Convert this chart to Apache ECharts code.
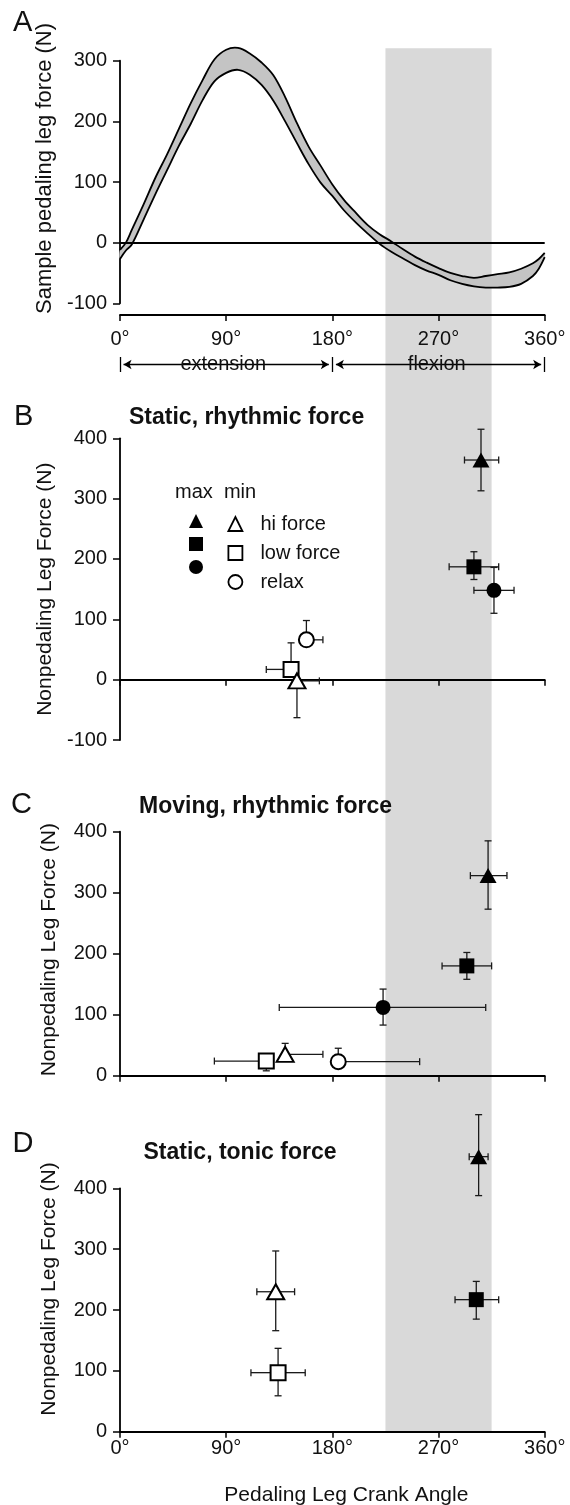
<!DOCTYPE html>
<html>
<head>
<meta charset="utf-8">
<script src="https://cdn.jsdelivr.net/npm/echarts@6/dist/echarts.min.js"></script>
<style>
html, body { margin: 0; padding: 0; background: #fff; }
#chart { width: 570px; height: 1505px; }
</style>
</head>
<body>
<div id="chart"></div>
<script>
// panel A: sample pedaling leg force, upper and lower bound of the band
var crankAngles = [0, 5, 10, 20, 30, 40, 50, 60, 70, 80, 90, 100, 110, 120, 130, 140, 150, 160, 170, 180,
    190, 200, 210, 220, 230, 240, 250, 260, 270, 280, 290, 300, 310, 320, 330, 340, 350, 355, 360];
var forceUpper = [-12, 0, 21, 63, 107, 146, 188, 230, 268, 302, 318, 321, 312, 297, 276, 240, 197, 158, 127, 96,
    70, 49, 29, 14, 2, -11, -23, -33, -42, -50, -55, -58, -55, -52, -49, -43, -34, -27, -17];
var forceLower = [-27, -13, -3, 38, 80, 120, 160, 196, 235, 266, 280, 285, 277, 260, 234, 200, 164, 129, 99, 77,
    53, 33, 15, -2, -15, -26, -37, -46, -53, -62, -68, -72, -74, -74, -73, -68, -55, -43, -24];

// shaded flexion window and the phase row under panel A
var flexionBand = [225, 315];
var phaseBounds = [0, 180, 360];
var phaseNames = ['extension', 'flexion'];
var phaseLabelAt = [87.5, 268.5];

var panelLetters = ['A', 'B', 'C', 'D'];
var panelTitles = ['Static, rhythmic force', 'Moving, rhythmic force', 'Static, tonic force'];

// points: [angle, force, angle -, angle +, force -, force +]
var bHiMax = [306, 364, 14, 15, 51, 51];
var bLowMax = [300, 187, 21, 21, 21, 25];
var bRelaxMax = [317, 148, 17, 17, 38, 38];
var bLowMin = [145, 17, 21, 0, 0, 44];
var bHiMin = [150, -2, 0, 19, 61, 0];
var bRelaxMin = [158, 66, 0, 14, 0, 32];

var cHiMax = [312, 328, 15, 16, 55, 57];
var cLowMax = [294, 180, 21, 21, 22, 22];
var cRelaxMax = [223, 112, 88, 87, 29, 30];
var cLowMin = [124, 24, 44, 0, 16, 0];
var cHiMin = [140, 35, 0, 32, 0, 18];
var cRelaxMin = [185, 23, 0, 69, 0, 22];

var dHiMax = [304, 452, 8, 8, 64, 69];
var dLowMax = [302, 217, 18, 19, 32, 30];
var dLowMin = [134, 97, 23, 23, 38, 40];
var dHiMin = [132, 230, 16, 16, 64, 67];

var ink = '#111';
var myChart = echarts.init(document.getElementById('chart'));

function angleAxis(idx, opt) {
    var ax = {
        gridIndex: idx, type: 'value', min: 0, max: 360, interval: 90,
        splitLine: { show: false },
        axisLine: { show: true, onZero: opt.onZero !== false, lineStyle: { color: '#000', width: 1.8 } },
        axisTick: { show: true, length: 6, lineStyle: { color: '#000', width: 1.5 } },
        axisLabel: { show: !!opt.labels, formatter: '{value}°', fontSize: 20, color: ink, margin: opt.margin || 8 }
    };
    if (opt.offset) ax.offset = opt.offset;
    if (opt.name) {
        ax.name = opt.name;
        ax.nameLocation = 'middle';
        ax.nameGap = 53;
        ax.nameTextStyle = { fontSize: 21, color: ink, padding: [0, 0, 0, 28] };
    }
    return ax;
}

function forceAxis(idx, min, max, name, shift, size) {
    return {
        gridIndex: idx, type: 'value', min: min, max: max, interval: 100,
        splitLine: { show: false },
        axisLine: { show: true, onZero: false, lineStyle: { color: '#000', width: 1.8 } },
        axisTick: { show: true, length: 7, lineStyle: { color: '#000', width: 1.5 } },
        axisLabel: { fontSize: 20, color: ink, margin: 13 },
        name: name, nameLocation: 'middle', nameGap: 60,
        nameTextStyle: { fontSize: size || 21, color: ink, padding: [0, 0, 0, shift || 0] }
    };
}

function hiddenAxis(idx, min, max) {
    return { gridIndex: idx, type: 'value', min: min, max: max, show: false };
}

function errorSeries(idx, rows) {
    return {
        type: 'custom', xAxisIndex: idx, yAxisIndex: idx, data: rows, encode: { x: 0, y: 1 },
        silent: true, clip: false, z: 3,
        renderItem: function (params, api) {
            var x = api.value(0), y = api.value(1);
            var c = api.coord([x, y]);
            var cap = 3.5;
            var style = { stroke: '#1a1a1a', lineWidth: 1.3 };
            var kids = [];
            function seg(x1, y1, x2, y2) {
                kids.push({ type: 'line', shape: { x1: x1, y1: y1, x2: x2, y2: y2 }, style: style });
            }
            var p;
            if (api.value(2) > 0) {
                p = api.coord([x - api.value(2), y]);
                seg(p[0], c[1], c[0], c[1]); seg(p[0], c[1] - cap, p[0], c[1] + cap);
            }
            if (api.value(3) > 0) {
                p = api.coord([x + api.value(3), y]);
                seg(c[0], c[1], p[0], c[1]); seg(p[0], c[1] - cap, p[0], c[1] + cap);
            }
            if (api.value(4) > 0) {
                p = api.coord([x, y - api.value(4)]);
                seg(c[0], c[1], c[0], p[1]); seg(c[0] - cap, p[1], c[0] + cap, p[1]);
            }
            if (api.value(5) > 0) {
                p = api.coord([x, y + api.value(5)]);
                seg(c[0], p[1], c[0], c[1]); seg(c[0] - cap, p[1], c[0] + cap, p[1]);
            }
            return { type: 'group', children: kids };
        }
    };
}

function pointSeries(idx, name, row) {
    var open = name.indexOf(' min') > 0;
    var shape = name.indexOf('hi') === 0 ? 'triangle' : (name.indexOf('low') === 0 ? 'rect' : 'circle');
    return {
        type: 'scatter', name: name, xAxisIndex: idx, yAxisIndex: idx,
        data: [[row[0], row[1]]],
        symbol: shape, symbolSize: shape === 'triangle' ? [17, 15] : 15,
        clip: false, silent: true, z: 4,
        itemStyle: open ? { color: '#fff', borderColor: '#000', borderWidth: 2, opacity: 1 } : { color: '#000', opacity: 1 }
    };
}

var openStyle = { color: '#fff', borderColor: '#000', borderWidth: 1.8 };
var solidStyle = { color: '#000', borderWidth: 0 };

// band of panel A: filled area between the two bounds, both bounds outlined
var bandSeries = {
    type: 'custom', xAxisIndex: 1, yAxisIndex: 1, data: [[crankAngles[0], forceUpper[0]]],
    encode: { x: 0, y: 1 }, silent: true, clip: false, z: 3,
    renderItem: function (params, api) {
        var up = crankAngles.map(function (a, i) { return api.coord([a, forceUpper[i]]); });
        var low = crankAngles.map(function (a, i) { return api.coord([a, forceLower[i]]); });
        var ring = up.concat(low.slice().reverse());
        return {
            type: 'group', children: [
                { type: 'polygon', shape: { points: ring, smooth: 0.35 }, style: { fill: '#c4c4c4', stroke: null } },
                { type: 'polyline', shape: { points: up, smooth: 0.35 }, style: { fill: null, stroke: '#000', lineWidth: 1.8 } },
                { type: 'polyline', shape: { points: low, smooth: 0.35 }, style: { fill: null, stroke: '#000', lineWidth: 1.8 } }
            ]
        };
    }
};

var series = [
    {
        type: 'line', xAxisIndex: 0, yAxisIndex: 0, data: [[0, 0]], showSymbol: false, silent: true,
        lineStyle: { opacity: 0 },
        markArea: { silent: true, z: -1, itemStyle: { color: '#d9d9d9' },
            data: [[{ xAxis: flexionBand[0] }, { xAxis: flexionBand[1] }]] }
    },
    {
        type: 'line', xAxisIndex: 1, yAxisIndex: 1, data: [[0, 0]], showSymbol: false, silent: true,
        lineStyle: { opacity: 0 },
        markLine: { silent: true, symbol: 'none', label: { show: false },
            lineStyle: { color: '#000', width: 1.8, type: 'solid' }, data: [{ yAxis: 0 }] }
    },
    bandSeries,
    {
        type: 'line', xAxisIndex: 2, yAxisIndex: 2, data: [[0, 0]], showSymbol: false, silent: true,
        lineStyle: { opacity: 0 },
        markLine: {
            silent: true, symbol: ['arrow', 'arrow'], symbolSize: [7, 8], label: { show: false },
            lineStyle: { color: '#000', width: 1.3, type: 'solid' },
            data: [
                [{ coord: [phaseBounds[0] + 3, 0.5] }, { coord: [phaseBounds[1] - 3, 0.5] }],
                [{ coord: [phaseBounds[1] + 3, 0.5] }, { coord: [phaseBounds[2] - 3, 0.5] }]
            ]
        }
    },
    {
        type: 'line', xAxisIndex: 2, yAxisIndex: 2, data: [[0, 0]], showSymbol: false, silent: true,
        lineStyle: { opacity: 0 },
        markLine: { silent: true, symbol: 'none', label: { show: false },
            lineStyle: { color: '#000', width: 1.3, type: 'solid' },
            data: phaseBounds.map(function (b) { return { xAxis: b }; }) },
        markPoint: {
            silent: true, z: 6, symbol: 'rect', symbolSize: 0, itemStyle: { color: '#000', opacity: 1 },
            label: { show: true, position: [0, 0], align: 'center', verticalAlign: 'middle',
                formatter: '{b}', fontSize: 20, color: ink, opacity: 1 },
            data: phaseNames.map(function (n, i) { return { name: n, coord: [phaseLabelAt[i], 0.5] }; })
        }
    },
    errorSeries(3, [bHiMax, bLowMax, bRelaxMax, bLowMin, bHiMin, bRelaxMin]),
    pointSeries(3, 'relax max', bRelaxMax),
    pointSeries(3, 'low force max', bLowMax),
    pointSeries(3, 'hi force max', bHiMax),
    pointSeries(3, 'relax min', bRelaxMin),
    pointSeries(3, 'low force min', bLowMin),
    pointSeries(3, 'hi force min', bHiMin),
    errorSeries(4, [cHiMax, cLowMax, cRelaxMax, cLowMin, cHiMin, cRelaxMin]),
    pointSeries(4, 'hi force max', cHiMax),
    pointSeries(4, 'low force max', cLowMax),
    pointSeries(4, 'relax max', cRelaxMax),
    pointSeries(4, 'low force min', cLowMin),
    pointSeries(4, 'hi force min', cHiMin),
    pointSeries(4, 'relax min', cRelaxMin),
    errorSeries(5, [dHiMax, dLowMax, dLowMin, dHiMin]),
    pointSeries(5, 'hi force max', dHiMax),
    pointSeries(5, 'low force max', dLowMax),
    pointSeries(5, 'low force min', dLowMin),
    pointSeries(5, 'hi force min', dHiMin)
];

var letterTops = [8, 402.5, 790.5, 1129.5];
var letterLefts = [13, 14, 11, 12.5];
var titleTops = [406.5, 795, 1141];
var titleLefts = [129, 139, 143.5];
var titles = panelLetters.map(function (t, i) {
    return { text: t, left: letterLefts[i], top: letterTops[i], padding: 0,
        textStyle: { fontSize: 29, fontWeight: 'normal', color: ink } };
}).concat(panelTitles.map(function (t, i) {
    return { text: t, left: titleLefts[i], top: titleTops[i], padding: 0,
        textStyle: { fontSize: 23, fontWeight: 'bold', color: ink } };
})).concat([{ text: 'max  min', left: 175, top: 482.5, padding: 0,
    textStyle: { fontSize: 20, fontWeight: 'normal', color: ink } }]);

function gridAt(top, height) {
    var g = { left: 120, right: 25.3, top: top, outerBoundsMode: 'none', containLabel: false };
    if (height == null) g.bottom = 73.3; else g.height = height;
    return g;
}

var option = {
    backgroundColor: '#fff',
    animation: false,
    textStyle: { fontFamily: 'Liberation Sans, Arial, sans-serif', color: ink },
    title: titles,
    legend: [
        {
            orient: 'vertical', left: 189, top: 514, padding: 0, itemWidth: 14, itemHeight: 14, itemGap: 9,
            selectedMode: false, formatter: function () { return ''; },
            data: [
                { name: 'hi force max', icon: 'triangle', itemStyle: solidStyle },
                { name: 'low force max', icon: 'rect', itemStyle: solidStyle },
                { name: 'relax max', icon: 'circle', itemStyle: solidStyle }
            ]
        },
        {
            orient: 'vertical', left: 227.5, top: 514, padding: 0, itemWidth: 14, itemHeight: 14, itemGap: 9,
            selectedMode: false,
            formatter: function (n) { return n.replace(' min', ''); },
            textStyle: { fontSize: 20, color: ink, padding: [0, 0, 0, 13] },
            data: [
                { name: 'hi force min', icon: 'triangle', itemStyle: openStyle },
                { name: 'low force min', icon: 'rect', itemStyle: openStyle },
                { name: 'relax min', icon: 'circle', itemStyle: openStyle }
            ]
        }
    ],
    grid: [
        gridAt(48.3),
        gridAt(60.7, 242.6),
        gridAt(357, 15),
        gridAt(438.3, 301.7),
        gridAt(831.7, 244),
        gridAt(1188.3, 243.4)
    ],
    xAxis: [
        hiddenAxis(0, 0, 360),
        angleAxis(1, { onZero: false, offset: 11.7, labels: true, margin: 14 }),
        hiddenAxis(2, 0, 360),
        angleAxis(3, {}),
        angleAxis(4, {}),
        angleAxis(5, { labels: true, margin: 7, name: 'Pedaling Leg Crank Angle' })
    ],
    yAxis: [
        hiddenAxis(0, 0, 1),
        forceAxis(1, -100, 300, 'Sample pedaling leg force (N)', 27, 22),
        hiddenAxis(2, 0, 1),
        forceAxis(3, -100, 400, 'Nonpedaling Leg Force (N)', 0),
        forceAxis(4, 0, 400, 'Nonpedaling Leg Force (N)', 8),
        forceAxis(5, 0, 400, 'Nonpedaling Leg Force (N)', 42)
    ],
    series: series
};

myChart.setOption(option);
</script>
</body>
</html>
